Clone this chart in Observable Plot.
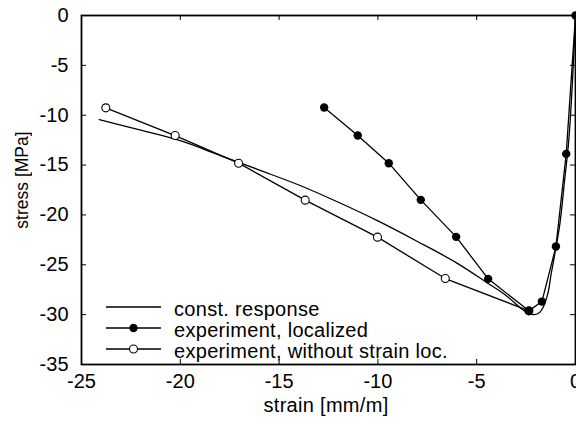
<!DOCTYPE html>
<html>
<head>
<meta charset="utf-8">
<script src="https://cdn.jsdelivr.net/npm/d3@7"></script>
<script src="https://cdn.jsdelivr.net/npm/@observablehq/plot@0.6"></script>
<style>
  html, body { margin: 0; padding: 0; background: #fff; }
  #chart svg { display: block; }
</style>
</head>
<body>
<div id="chart"></div>
<script>
// Constitutive model response (strain in mm/m, stress in MPa)
const constStrain = [-24.1, -22, -20, -18, -16, -14, -12, -10, -8, -6, -4.5, -3.5, -2.8, -2.4, -2.1, -1.8, -1.6, -1.4, -1.23, -1.0, -0.79, -0.55, -0.34, -0.15, 0];
const constStress = [-10.45, -11.5, -12.56, -14.02, -15.5, -17.0, -18.73, -20.6, -22.66, -24.83, -26.77, -28.1, -29.3, -29.85, -30.0, -29.75, -29.1, -27.9, -25.9, -23.4, -20.9, -16.5, -12.5, -6.5, 0];

// Experiment, localized
const locStrain = [-12.72, -11.02, -9.45, -7.83, -6.04, -4.42, -2.36, -1.70, -0.99, -0.47, 0];
const locStress = [-9.23, -12.04, -14.81, -18.49, -22.20, -26.41, -29.62, -28.69, -23.17, -13.88, 0];

// Experiment, without strain localization
const openStrain = [-23.77, -20.26, -17.05, -13.68, -10.02, -6.59, -2.36];
const openStress = [-9.26, -12.04, -14.81, -18.52, -22.23, -26.38, -29.62];

const xTicks = [-25, -20, -15, -10, -5, 0];
const yTicks = [-35, -30, -25, -20, -15, -10, -5, 0];

const seriesNames = ["const. response", "experiment, localized", "experiment, without strain loc."];

const zip = (xs, ys) => xs.map((x, i) => ({x, y: ys[i]}));
const constData = zip(constStrain, constStress);
const locData = zip(locStrain, locStress);
const openData = zip(openStrain, openStress);

const font = "Liberation Sans, Arial, Helvetica, sans-serif";
const W = 576, H = 423;
const M = {left: 81, right: 1, top: 15, bottom: 59};
const innerW = W - M.left - M.right;
const innerH = H - M.top - M.bottom;
const tickLen = 5;
const fmt = d => String(d); // plain hyphen-minus

const plot = Plot.plot({
  width: W,
  height: H,
  marginLeft: M.left,
  marginRight: M.right,
  marginTop: M.top,
  marginBottom: M.bottom,
  style: {fontFamily: font, fontSize: "20px", color: "black", background: "white", overflow: "visible"},
  x: {domain: [-25, 0]},
  y: {domain: [-35, 0]},
  marks: [
    // tick labels
    Plot.axisX(xTicks, {anchor: "bottom", tickSize: 0, tickPadding: 9, tickFormat: fmt, label: null, fontSize: 20, fill: "black"}),
    Plot.axisY(yTicks, {anchor: "left", tickSize: 0, tickPadding: 13, tickFormat: fmt, label: null, fontSize: 20, fill: "black"}),
    // inward ticks on all four sides
    Plot.ruleX(xTicks, {x: d => d, insetTop: innerH - tickLen, stroke: "black", strokeWidth: 1}),
    Plot.ruleX(xTicks, {x: d => d, insetBottom: innerH - tickLen, stroke: "black", strokeWidth: 1}),
    Plot.ruleY(yTicks, {y: d => d, insetRight: innerW - tickLen, stroke: "black", strokeWidth: 1}),
    Plot.ruleY(yTicks, {y: d => d, insetLeft: innerW - tickLen, stroke: "black", strokeWidth: 1}),
    Plot.frame({stroke: "black", strokeWidth: 1.8}),
    // series
    Plot.line(constData, {x: "x", y: "y", curve: "catmull-rom", stroke: "black", strokeWidth: 1.3}),
    Plot.line(openData, {x: "x", y: "y", stroke: "black", strokeWidth: 1.3}),
    Plot.dot(openData, {x: "x", y: "y", r: 4, fill: "white", stroke: "black", strokeWidth: 1.1}),
    Plot.line(locData, {x: "x", y: "y", stroke: "black", strokeWidth: 1.3}),
    Plot.dot(locData, {x: "x", y: "y", r: 4.2, fill: "black", stroke: "none"})
  ]
});

document.getElementById("chart").appendChild(plot);

// Axis titles and legend drawn into the plot's SVG
const svg = d3.select(plot);
svg.append("text")
  .attr("x", 326).attr("y", 412)
  .attr("text-anchor", "middle")
  .attr("fill", "black")
  .attr("letter-spacing", 0.3)
  .attr("font-size", 20).attr("font-family", font)
  .text("strain [mm/m]");
svg.append("text")
  .attr("transform", "translate(28,180) rotate(-90)")
  .attr("text-anchor", "middle")
  .attr("fill", "black")
  .attr("opacity", 0.99)
  .attr("font-size", 17.5).attr("font-family", font)
  .text("stress [MPa]");

const legend = svg.append("g").attr("transform", "translate(106,307)");
seriesNames.forEach((name, i) => {
  const g = legend.append("g").attr("transform", `translate(0,${i * 21})`);
  g.append("line").attr("x1", 0).attr("x2", 55).attr("y1", 0).attr("y2", 0)
    .attr("stroke", "black").attr("stroke-width", 1.3);
  if (i === 1) g.append("circle").attr("cx", 27.5).attr("cy", 0).attr("r", 4.2).attr("fill", "black");
  if (i === 2) g.append("circle").attr("cx", 27.5).attr("cy", 0).attr("r", 4).attr("fill", "white").attr("stroke", "black").attr("stroke-width", 1.1);
  g.append("text").attr("x", 68).attr("y", 8.5)
    .attr("text-anchor", "start")
    .attr("fill", "black")
    .attr("letter-spacing", 0.3)
    .attr("font-size", 20).attr("font-family", font).text(name);
});
</script>
</body>
</html>
